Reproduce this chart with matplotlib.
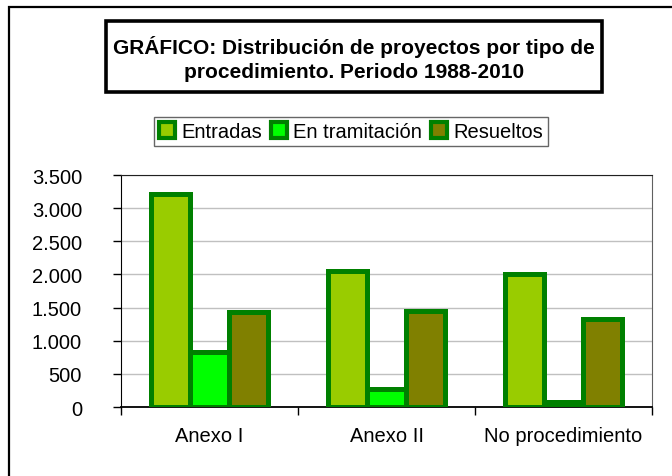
import numpy as np
import matplotlib
matplotlib.use("Agg")
import matplotlib.pyplot as plt
from matplotlib.patches import Rectangle, Patch
from matplotlib.ticker import FuncFormatter, FixedLocator

plt.rcParams['font.family'] = ['Liberation Sans', 'DejaVu Sans']

categorias = ["Anexo I", "Anexo II", "No procedimiento"]
series = ["Entradas", "En tramitación", "Resueltos"]
entradas = [3220, 2050, 2010]
en_tramitacion = [830, 270, 70]
resueltos = [1440, 1450, 1330]
colores = ["#99CC00", "#00FF00", "#808000"]
borde = "#008000"

W, H = 672, 477
fig = plt.figure(figsize=(W / 100, H / 100), dpi=100)
ax = fig.add_axes([121 / W, 1 - 408 / H, (652 - 121) / W, (408 - 176) / H])

x = np.arange(len(categorias))
ancho = 0.22
for i, (vals, col) in enumerate(zip([entradas, en_tramitacion, resueltos], colores)):
    ax.bar(x + (i - 1) * ancho, vals, ancho, color=col, edgecolor=borde,
           linewidth=3.6, zorder=3)

ax.set_xlim(-0.5, 2.5)
ax.set_ylim(0, 3500)
ax.set_yticks(np.arange(0, 3501, 500))
ax.yaxis.set_major_formatter(FuncFormatter(lambda v, p: f"{int(v):,}".replace(",", ".")))
ax.grid(axis="y", color="#C0C0C0", linewidth=1, zorder=0)
ax.set_axisbelow(True)

# category ticks sit between the groups, labels centred under each group
ax.xaxis.set_major_locator(FixedLocator([-0.5, 0.5, 1.5, 2.5]))
ax.xaxis.set_major_formatter(FuncFormatter(lambda v, p: ""))
ax.set_xticks(x, minor=True)
ax.set_xticklabels(categorias, minor=True)
ax.tick_params(axis="x", which="minor", length=0, pad=14, labelsize=14.5)
ax.tick_params(axis="x", which="major", length=6, width=1, direction="out")
ax.tick_params(axis="y", length=6, width=1, pad=22, labelsize=14.5)

ax.spines["left"].set_color("black")
ax.spines["bottom"].set_color("black")
ax.spines["bottom"].set_linewidth(1.3)
ax.spines["top"].set_color("#202020")
ax.spines["right"].set_color("#606060")

# outer frame of the chart
fig.add_artist(Rectangle((9 / W, -0.1), 1.2, 1.1 - 8 / H, transform=fig.transFigure,
                         fill=False, edgecolor="black", linewidth=1.6))

# title box
fig.add_artist(Rectangle((106 / W, 1 - 93 / H), (602 - 106) / W, (93 - 22) / H,
                         transform=fig.transFigure, fill=False, edgecolor="black",
                         linewidth=2.6))
fig.text(354 / W, 1 - 59 / H,
         "GRÁFICO: Distribución de proyectos por tipo de\nprocedimiento. Periodo 1988-2010",
         ha="center", va="center", fontsize=15, fontweight="bold", linespacing=1.35)

handles = [Patch(facecolor=c, edgecolor=borde, linewidth=3) for c in colores]
leg = fig.legend(handles, series, loc="center", bbox_to_anchor=(351 / W, 1 - 132.5 / H),
                 ncol=3, fontsize=14.5, frameon=True, fancybox=False,
                 edgecolor="#404040", handlelength=0.8, handleheight=0.8,
                 handletextpad=0.3, columnspacing=0.45, borderpad=0.25,
                 borderaxespad=0)
leg.get_frame().set_linewidth(1.0)

fig.savefig("out.png", dpi=100)
